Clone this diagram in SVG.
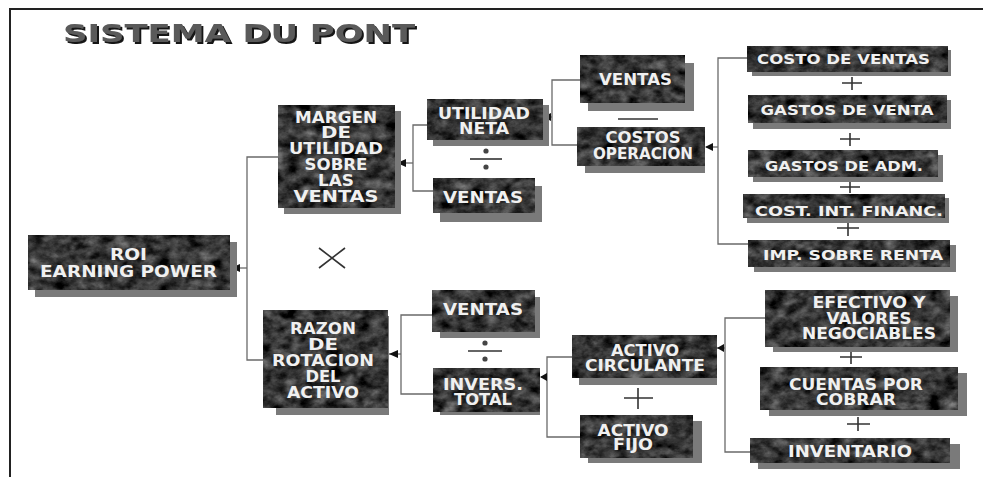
<svg xmlns="http://www.w3.org/2000/svg" width="983" height="477" viewBox="0 0 983 477">
<defs>
<filter id="mb" x="0" y="0" width="100%" height="100%" color-interpolation-filters="sRGB">
<feTurbulence type="fractalNoise" baseFrequency="0.07 0.1" numOctaves="4" seed="7" result="n"/>
<feColorMatrix in="n" type="matrix" values="0.33 0.33 0.33 0 0 0.33 0.33 0.33 0 0 0.33 0.33 0.33 0 0 0 0 0 0 1" result="g"/>
<feComponentTransfer in="g" result="d"><feFuncR type="linear" slope="1.15" intercept="-0.36"/><feFuncG type="linear" slope="1.15" intercept="-0.36"/><feFuncB type="linear" slope="1.15" intercept="-0.36"/></feComponentTransfer>
<feComposite in="d" in2="SourceGraphic" operator="in"/>
</filter>
<filter id="tsh" x="-5%" y="-20%" width="110%" height="150%">
<feOffset in="SourceAlpha" dx="2" dy="2" result="o"/>
<feFlood flood-color="#151515"/><feComposite in2="o" operator="in" result="s"/>
<feMerge><feMergeNode in="s"/><feMergeNode in="SourceGraphic"/></feMerge>
</filter>
<style>
.sh{fill:#7a7a7a}
.bx{fill:#000;filter:url(#mb);stroke:#1a1a1a;stroke-width:1}
.t{font-family:"DejaVu Sans",Verdana,sans-serif;font-weight:bold;font-size:15px;fill:#f0f0f0;text-anchor:middle}
.s14{font-size:14px}
.s16{font-size:16px}
.c{fill:none;stroke:#6a6a6a;stroke-width:1.3}
.op{fill:none;stroke:#333;stroke-width:1.6}
.dot{fill:#444}
.title{font-family:"DejaVu Sans",Verdana,sans-serif;font-weight:bold;font-size:24px;fill:#5a5a5a;filter:url(#tsh)}
</style>
</defs>
<rect x="0" y="0" width="983" height="477" fill="#fff"/>
<path d="M10,477 V9 H983" fill="none" stroke="#222" stroke-width="2"/>
<g id="title">
<text class="title" x="63" y="42" textLength="352" lengthAdjust="spacingAndGlyphs">SISTEMA DU PONT</text>
</g>
<g id="connectors">
<path class="c" d="M247,268 H231"/><path class="c" d="M278,157 H247 V360 H263"/>
<path class="c" d="M413,163 H397"/><path class="c" d="M427,125 H413 V191 H433"/>
<path class="c" d="M552,117 H544"/><path class="c" d="M580,80 H552 V145 H577"/>
<path class="c" d="M718,147 H706"/><path class="c" d="M747,58 H718 V244 H748"/>
<path class="c" d="M401,354 H389"/><path class="c" d="M432,315 H401 V394 H433"/>
<path class="c" d="M547,377 H541"/><path class="c" d="M572,357 H547 V437 H580"/>
<path class="c" d="M725,348 H717"/><path class="c" d="M765,318 H725 V452 H750"/>
<g fill="#111">
<path d="M231,268 l9,-4 v8 z"/>
<path d="M397,163 l9,-4 v8 z"/>
<path d="M543,117 l8,-4 v8 z"/>
<path d="M705,147 l8,-4 v8 z"/>
<path d="M389,354 l9,-4 v8 z"/>
<path d="M540,377 l7,-4 v8 z"/>
<path d="M717,348 l7,-4 v8 z"/>
</g>
</g>
<g id="operators">
<path class="op" d="M319,248 L345,268 M319,268 L345,248"/>
<path class="op" d="M470,159 H502" stroke-width="2.2"/><circle class="dot" cx="486" cy="151" r="2.6"/><circle class="dot" cx="486" cy="167" r="2.6"/>
<path class="op" d="M468,351 H502" stroke-width="2.2"/><circle class="dot" cx="485" cy="343" r="2.6"/><circle class="dot" cx="485" cy="359" r="2.6"/>
<path class="op" d="M618,119 H658" stroke-width="2.5"/>
<path class="op" d="M842,83 H862 M852,77 V90" stroke="#777" stroke-width="1.3"/>
<path class="op" d="M840,139 H860 M850,133 V146" stroke="#777" stroke-width="1.3"/>
<path class="op" d="M840,187 H860 M850,181 V193" stroke="#aaa" stroke-width="1.3"/>
<path class="op" d="M837,228 H859 M848,221 V236" stroke="#111" stroke-width="2.4"/>
<path class="op" d="M624,398 H653 M638,388 V409" stroke="#444" stroke-width="2"/>
<path class="op" d="M840,357 H862 M851,351 V364" stroke="#333" stroke-width="2"/>
<path class="op" d="M847,424 H870 M858,417 V431" stroke="#333" stroke-width="2"/>
</g>
<g id="roi"><rect class="sh" x="35" y="242" width="202" height="55"/><rect class="bx" x="28" y="235" width="202" height="55"/>
<text class="t s16"><tspan x="128.5" y="260" textLength="37" lengthAdjust="spacingAndGlyphs">ROI</tspan><tspan x="128.5" y="277" textLength="177" lengthAdjust="spacingAndGlyphs">EARNING POWER</tspan></text></g>
<g id="margen"><rect class="sh" x="284" y="111" width="117" height="103"/><rect class="bx" x="278" y="105" width="117" height="103"/>
<text class="t"><tspan x="336" y="123" textLength="82" lengthAdjust="spacingAndGlyphs">MARGEN</tspan><tspan x="336" y="138" textLength="30" lengthAdjust="spacingAndGlyphs">DE</tspan><tspan x="336" y="154" textLength="94" lengthAdjust="spacingAndGlyphs">UTILIDAD</tspan><tspan x="336" y="170" textLength="63" lengthAdjust="spacingAndGlyphs">SOBRE</tspan><tspan x="336" y="186" textLength="36" lengthAdjust="spacingAndGlyphs">LAS</tspan><tspan x="336" y="202" textLength="85" lengthAdjust="spacingAndGlyphs">VENTAS</tspan></text></g>
<g id="utilidad-neta"><rect class="sh" x="433" y="105" width="116" height="41"/><rect class="bx" x="427" y="99" width="116" height="41"/>
<text class="t"><tspan x="484" y="119" textLength="92" lengthAdjust="spacingAndGlyphs">UTILIDAD</tspan><tspan x="484" y="134" textLength="50" lengthAdjust="spacingAndGlyphs">NETA</tspan></text></g>
<g id="ventas-1"><rect class="sh" x="440" y="186" width="102" height="36"/><rect class="bx" x="433" y="178" width="102" height="35"/>
<text class="t" x="483" y="203" textLength="80" lengthAdjust="spacingAndGlyphs">VENTAS</text></g>
<g id="ventas-2"><rect class="sh" x="588" y="63" width="106" height="48"/><rect class="bx" x="580" y="55" width="105" height="48"/>
<text class="t" x="635.5" y="85" textLength="73" lengthAdjust="spacingAndGlyphs">VENTAS</text></g>
<g id="costos-operacion"><rect class="sh" x="585" y="134" width="120" height="39"/><rect class="bx" x="577" y="127" width="128" height="39"/>
<text class="t"><tspan x="643" y="143" textLength="75" lengthAdjust="spacingAndGlyphs">COSTOS</tspan><tspan x="643" y="159" textLength="100" lengthAdjust="spacingAndGlyphs">OPERACION</tspan></text></g>
<g id="costo-ventas"><rect class="sh" x="752" y="50" width="199" height="26"/><rect class="bx" x="747" y="46" width="201" height="26"/>
<text class="t s14" x="843.5" y="64" textLength="173" lengthAdjust="spacingAndGlyphs">COSTO DE VENTAS</text></g>
<g id="gastos-venta"><rect class="sh" x="753" y="100" width="198" height="29"/><rect class="bx" x="748" y="95" width="199" height="28"/>
<text class="t s14" x="847" y="115" textLength="173" lengthAdjust="spacingAndGlyphs">GASTOS DE VENTA</text></g>
<g id="gastos-adm"><rect class="sh" x="753" y="155" width="190" height="27"/><rect class="bx" x="748" y="150" width="190" height="27"/>
<text class="t s14" x="844" y="171" textLength="158" lengthAdjust="spacingAndGlyphs">GASTOS DE ADM.</text></g>
<g id="cost-int-financ"><rect class="sh" x="747" y="198" width="202" height="25"/><rect class="bx" x="743" y="194" width="202" height="24"/>
<text class="t s14" x="849" y="216" textLength="188" lengthAdjust="spacingAndGlyphs">COST. INT. FINANC.</text></g>
<g id="imp-renta"><rect class="sh" x="754" y="245" width="202" height="27"/><rect class="bx" x="748" y="240" width="202" height="27"/>
<text class="t s14" x="853" y="260" textLength="180" lengthAdjust="spacingAndGlyphs">IMP. SOBRE RENTA</text></g>
<g id="razon"><rect class="sh" x="276" y="316" width="113" height="99"/><rect class="bx" x="263" y="310" width="125" height="98"/>
<text class="t"><tspan x="323" y="334" textLength="66" lengthAdjust="spacingAndGlyphs">RAZON</tspan><tspan x="323" y="350" textLength="30" lengthAdjust="spacingAndGlyphs">DE</tspan><tspan x="323" y="366" textLength="102" lengthAdjust="spacingAndGlyphs">ROTACION</tspan><tspan x="323" y="382" textLength="35" lengthAdjust="spacingAndGlyphs">DEL</tspan><tspan x="323" y="398" textLength="72" lengthAdjust="spacingAndGlyphs">ACTIVO</tspan></text></g>
<g id="ventas-3"><rect class="sh" x="440" y="297" width="100" height="41"/><rect class="bx" x="432" y="290" width="103" height="42"/>
<text class="t" x="483" y="315" textLength="80" lengthAdjust="spacingAndGlyphs">VENTAS</text></g>
<g id="invers-total"><rect class="sh" x="440" y="373" width="100" height="42"/><rect class="bx" x="433" y="368" width="107" height="44"/>
<text class="t"><tspan x="483" y="390" textLength="80" lengthAdjust="spacingAndGlyphs">INVERS.</tspan><tspan x="483" y="405" textLength="58" lengthAdjust="spacingAndGlyphs">TOTAL</tspan></text></g>
<g id="activo-circulante"><rect class="sh" x="579" y="341" width="138" height="44"/><rect class="bx" x="572" y="335" width="145" height="43"/>
<text class="t"><tspan x="645" y="356" textLength="68" lengthAdjust="spacingAndGlyphs">ACTIVO</tspan><tspan x="645" y="371" textLength="120" lengthAdjust="spacingAndGlyphs">CIRCULANTE</tspan></text></g>
<g id="activo-fijo"><rect class="sh" x="588" y="421" width="114" height="42"/><rect class="bx" x="580" y="415" width="113" height="43"/>
<text class="t"><tspan x="633" y="436" textLength="71" lengthAdjust="spacingAndGlyphs">ACTIVO</tspan><tspan x="633" y="450" textLength="40" lengthAdjust="spacingAndGlyphs">FIJO</tspan></text></g>
<g id="efectivo"><rect class="sh" x="773" y="296" width="185" height="56"/><rect class="bx" x="765" y="290" width="185" height="57"/>
<text class="t"><tspan x="869" y="308" textLength="113" lengthAdjust="spacingAndGlyphs">EFECTIVO Y</tspan><tspan x="869" y="324" textLength="85" lengthAdjust="spacingAndGlyphs">VALORES</tspan><tspan x="869" y="339" textLength="134" lengthAdjust="spacingAndGlyphs">NEGOCIABLES</tspan></text></g>
<g id="cuentas-cobrar"><rect class="sh" x="769" y="373" width="198" height="43"/><rect class="bx" x="760" y="367" width="198" height="43"/>
<text class="t"><tspan x="856" y="390" textLength="134" lengthAdjust="spacingAndGlyphs">CUENTAS POR</tspan><tspan x="856" y="405" textLength="80" lengthAdjust="spacingAndGlyphs">COBRAR</tspan></text></g>
<g id="inventario"><rect class="sh" x="758" y="444" width="202" height="25"/><rect class="bx" x="750" y="438" width="200" height="25"/>
<text class="t" x="850" y="457" textLength="124" lengthAdjust="spacingAndGlyphs">INVENTARIO</text></g>
</svg>
